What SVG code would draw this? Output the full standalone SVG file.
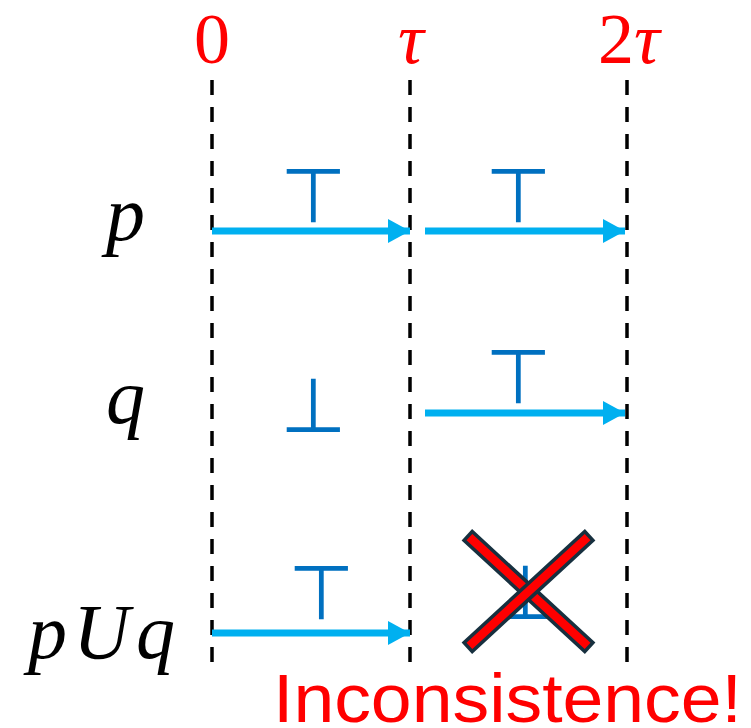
<svg xmlns="http://www.w3.org/2000/svg" width="751" height="728" viewBox="0 0 751 728">
<style>
.grid{stroke:#000;stroke-width:3.5;stroke-dasharray:15 12;fill:none}
.arr{stroke:#00B0F0;stroke-width:7;fill:none}
.sym{font-family:"DejaVu Sans",sans-serif;font-size:76px;fill:#0070C0;text-anchor:middle}
.time{font-family:"Liberation Serif",serif;font-size:72px;fill:#FF0000;text-anchor:middle}
.lbl{font-family:"Liberation Serif",serif;font-style:italic;font-size:78px;fill:#000}
.bar{fill:#FF0000;stroke:#17303F;stroke-width:3.5}
</style>
<defs>
<marker id="ah" markerUnits="userSpaceOnUse" markerWidth="24" markerHeight="24" refX="22" refY="12" orient="auto">
<path d="M0,0 L22,12 L0,24 Z" fill="#00B0F0"/>
</marker>
</defs>
<g id="axis-labels">
<text class="time" x="212" y="63">0</text>
<text class="time" x="411" y="63" font-style="italic">τ</text>
<text class="time" x="629" y="63">2<tspan font-style="italic">τ</tspan></text>
</g>
<g id="gridlines">
<line class="grid" x1="212" y1="80" x2="212" y2="670"/>
<line class="grid" x1="410" y1="80" x2="410" y2="670"/>
<line class="grid" x1="627" y1="80" x2="627" y2="670"/>
</g>
<g id="row-labels">
<text class="lbl" x="106" y="240">p</text>
<text class="lbl" x="106" y="423">q</text>
<text class="lbl" x="28" y="658" textLength="147" lengthAdjust="spacing">pUq</text>
</g>
<g id="connectors">
<line class="arr" x1="212" y1="231" x2="410" y2="231" marker-end="url(#ah)"/>
<line class="arr" x1="425" y1="231" x2="625" y2="231" marker-end="url(#ah)"/>
<line class="arr" x1="425" y1="413" x2="625" y2="413" marker-end="url(#ah)"/>
<line class="arr" x1="212" y1="633" x2="410" y2="633" marker-end="url(#ah)"/>
</g>
<g id="symbols">
<text class="sym" x="313" y="222">⊤</text>
<text class="sym" x="518" y="222">⊤</text>
<text class="sym" x="518" y="403">⊤</text>
<text class="sym" x="313" y="432">⊥</text>
<text class="sym" x="321" y="619">⊤</text>
<text class="sym" x="525" y="619">⊥</text>
</g>
<g id="cross">
<rect class="bar" x="-82" y="-6" width="164" height="12" transform="translate(528.5,591.5) rotate(42.6)"/>
<rect class="bar" x="-82" y="-6" width="164" height="12" transform="translate(528.5,591.5) rotate(-42.6)"/>
</g>
<g id="message">
<text x="273" y="722" font-family="'Liberation Sans',sans-serif" font-size="68" fill="#FF0000" textLength="469" lengthAdjust="spacingAndGlyphs">Inconsistence!</text>
</g>
</svg>
